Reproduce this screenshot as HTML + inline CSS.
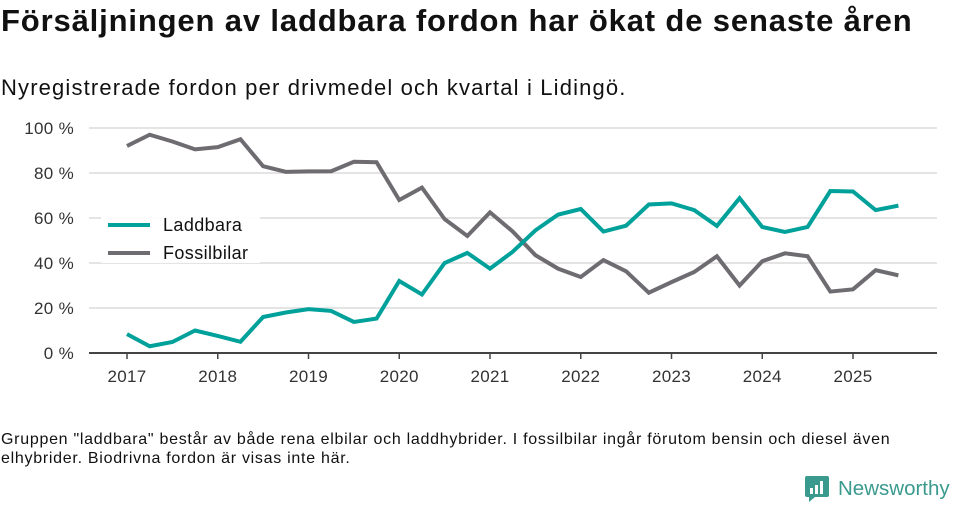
<!DOCTYPE html>
<html><head><meta charset="utf-8"><style>
body{margin:0;width:960px;height:505px;background:#fff;font-family:"Liberation Sans",sans-serif;color:#111;position:relative;overflow:hidden}
.t{position:absolute;left:1px;top:3px;font-size:31px;font-weight:bold;margin:0;letter-spacing:0.85px;white-space:nowrap}
.s{position:absolute;left:1px;top:75px;font-size:22px;letter-spacing:1.15px;white-space:nowrap}
.f{position:absolute;left:1px;top:430px;font-size:16px;line-height:19px;letter-spacing:0.72px;white-space:nowrap}
svg{position:absolute;left:0;top:0}
</style></head><body>
<h1 class="t">Försäljningen av laddbara fordon har ökat de senaste åren</h1>
<div class="s">Nyregistrerade fordon per drivmedel och kvartal i Lidingö.</div>
<svg id="c" width="960" height="505"></svg>
<div class="f">Gruppen "laddbara" består av både rena elbilar och laddhybrider. I fossilbilar ingår förutom bensin och diesel även<br>elhybrider. Biodrivna fordon är visas inte här.</div>
<div style="position:absolute;left:805px;top:476px;display:flex;align-items:center;color:#3a9a8e;font-size:20.5px;white-space:nowrap">
<svg width="24" height="26" style="position:static;margin-right:9px"><rect x="0" y="0" width="24" height="21" rx="2" fill="#3a9a8e"/><polygon points="4,21 10,21 4,26" fill="#3a9a8e"/><rect x="5" y="12" width="3" height="6" fill="#fff"/><rect x="10" y="9" width="3" height="9" fill="#fff"/><rect x="15" y="5" width="3" height="13" fill="#fff"/></svg>Newsworthy</div>
<script>
const years=[2017,2018,2019,2020,2021,2022,2023,2024,2025];
const yTicks=[0,20,40,60,80,100];
const laddbara=[8.4,3,4.9,10,7.6,5,16,18,19.5,18.7,13.8,15.3,32,26,40,44.5,37.5,45,54.5,61.5,64,54,56.6,66,66.5,63.5,56.5,68.8,56,53.8,56,72,71.8,63.5,65.5];
const fossil=[92,97,94,90.5,91.5,95,83,80.5,80.7,80.8,85,84.8,68,73.5,59.5,52,62.5,54,43.5,37.5,33.8,41.3,36.3,26.8,31.5,36,43,30,40.8,44.3,43,27.3,28.3,36.8,34.5];
const NS='http://www.w3.org/2000/svg',svg=document.getElementById('c');
const X=t=>127+(t-2017)*90.75, Y=v=>353-v*2.25;
function el(n,a,p){const e=document.createElementNS(NS,n);for(const k in a)e.setAttribute(k,a[k]);(p||svg).appendChild(e);return e;}
yTicks.forEach(v=>{
 if(v>0){const g=el('line',{x1:89,x2:937,y1:Y(v),y2:Y(v),stroke:'#dcdcdc','stroke-width':1.5});
 
 }
 const t=el('text',{x:74,y:Y(v)+6,'text-anchor':'end','font-size':17,fill:'#333','letter-spacing':0.3});t.textContent=v+' %';
 
 
});
const ax=el('line',{x1:89,x2:937,y1:353,y2:353,stroke:'#444','stroke-width':2});


years.forEach(y=>{
 el('line',{x1:X(y),x2:X(y),y1:353,y2:359,stroke:'#444','stroke-width':1.5});
 const t=el('text',{x:X(y),y:382,'text-anchor':'middle','font-size':17,fill:'#333','letter-spacing':0.3});t.textContent=y;
 
 
});
function line(d,c,n){const p=el('polyline',{points:d.map((v,i)=>X(2017+i/4)+','+Y(v)).join(' '),fill:'none',stroke:c,'stroke-width':4,'stroke-linejoin':'miter'});
 
 }
line(fossil,'#6e6c71','fossilbilar-line');
line(laddbara,'#00a19a','laddbara-line');
const lg=el('g',{});


el('rect',{x:101,y:208,width:159,height:55,fill:'#fff','fill-opacity':0.9},lg);
el('line',{x1:108,x2:150,y1:225,y2:225,stroke:'#00a19a','stroke-width':4},lg);
el('line',{x1:108,x2:150,y1:253,y2:253,stroke:'#6e6c71','stroke-width':4},lg);
const a=el('text',{x:163,y:231,'font-size':18,fill:'#111','letter-spacing':0.4},lg);a.textContent='Laddbara';


const b=el('text',{x:163,y:259,'font-size':18,fill:'#111','letter-spacing':0.4},lg);b.textContent='Fossilbilar';


</script>
</body></html>
